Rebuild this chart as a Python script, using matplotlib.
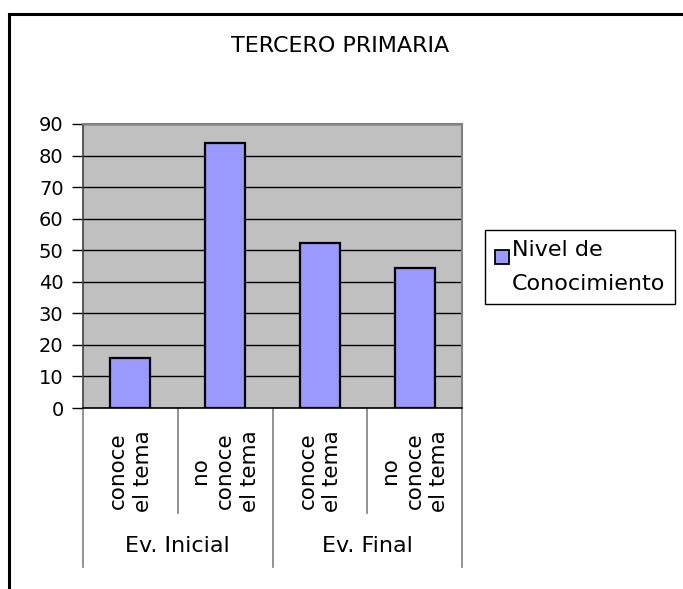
import matplotlib
matplotlib.use("Agg")
import matplotlib.pyplot as plt
from matplotlib.lines import Line2D

plt.rcParams['font.family'] = ['DejaVu Sans']

title = "TERCERO PRIMARIA"
groups = ["Ev. Inicial", "Ev. Final"]
categories = ["conoce\nel tema", "no\nconoce\nel tema", "conoce\nel tema", "no\nconoce\nel tema"]
values = [16, 84, 52.3, 44.5]
series_name = "Nivel de\nConocimiento"
yticks = list(range(0, 100, 10))

W, H = 683, 589
fig = plt.figure(figsize=(W / 100, H / 100), dpi=100)
fig.patch.set_facecolor("white")

# axes placement (pixel-based)
L, R, T, B = 83, 462, 124, 408
ax = fig.add_axes([L / W, 1 - B / H, (R - L) / W, (B - T) / H])
ax.set_facecolor("#C0C0C0")

x = list(range(len(categories)))
bars = ax.bar(x, values, width=0.42, color="#9999FF", edgecolor="black",
              linewidth=1.6, label=series_name, zorder=3)

ax.set_xlim(-0.5, len(categories) - 0.5)
ax.set_ylim(0, 90)
ax.set_yticks(yticks)
ax.set_yticklabels([str(v) for v in yticks], fontsize=14)
ax.tick_params(axis="y", length=8, width=1, color="black", pad=6)
ax.set_xticks([])
ax.yaxis.grid(True, color="black", linewidth=1, zorder=1)
ax.set_axisbelow(True)

for s in ["top", "right"]:
    ax.spines[s].set_color("#808080")
    ax.spines[s].set_linewidth(1.5)
ax.spines["left"].set_color("#404040")
ax.spines["left"].set_linewidth(1.2)
ax.spines["bottom"].set_color("black")
ax.spines["bottom"].set_linewidth(1.2)
ax.spines["bottom"].set_zorder(5)

trans = ax.get_xaxis_transform()
# category separators
n = len(categories)
for i in range(n + 1):
    xb = i - 0.5
    is_group = (i % 2 == 0)
    y_end = -0.56 if is_group else -0.37
    ax.add_line(Line2D([xb, xb], [0, y_end], transform=trans, color="#808080",
                       linewidth=1.2, clip_on=False))

# category labels
for i, lab in enumerate(categories):
    ax.text(i, -0.222, lab, transform=trans, rotation=90, ha="center", va="center",
            multialignment="center", fontsize=15.5, linespacing=1.3)

# group labels
for g, lab in enumerate(groups):
    ax.text(2 * g + 0.5, -0.486, lab, transform=trans, ha="center", va="center",
            fontsize=16)

# title
fig.text(340 / W, 1 - 46 / H, title, ha="center", va="center", fontsize=16)

# legend
leg = ax.legend(loc="upper left", bbox_to_anchor=(485 / W, 1 - 230 / H),
                bbox_transform=fig.transFigure, frameon=True, fancybox=False,
                edgecolor="black", fontsize=16, handlelength=0.62, handleheight=0.62,
                handletextpad=0.15, borderpad=0.45, borderaxespad=0, framealpha=1)
leg.get_frame().set_linewidth(1)
for t in leg.get_texts():
    t.set_linespacing(1.85)
hp = leg.legend_handles[0]
hp.set_y(hp.get_y() + 7)
hp.set_linewidth(1.3)

# figure border (left and top)
fig.add_artist(Line2D([9 / W, 9 / W], [0, 1 - 14 / H], transform=fig.transFigure,
                      color="black", linewidth=2.2))
fig.add_artist(Line2D([9 / W, 1], [1 - 14 / H, 1 - 14 / H], transform=fig.transFigure,
                      color="black", linewidth=2.2))

fig.savefig("out.png", dpi=100)
